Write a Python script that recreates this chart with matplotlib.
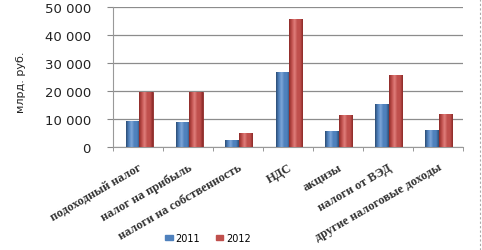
import matplotlib.pyplot as plt
import numpy as np
from matplotlib.colors import LinearSegmentedColormap
from matplotlib.transforms import ScaledTranslation

categories = ['подоходный налог', 'налог на прибыль', 'налоги на собственность', 'НДС',
              'акцизы', 'налоги от ВЭД', 'другие налоговые доходы']
vals_2011 = [9400, 8900, 2500, 26700, 5800, 15400, 5900]
vals_2012 = [19500, 19600, 5000, 45800, 11300, 25800, 11900]
yticks = [0, 10000, 20000, 30000, 40000, 50000]
ytick_labels = ['0', '10 000', '20 000', '30 000', '40 000', '50 000']

blue = '#4F81BD'
red = '#C0504D'

fig = plt.figure(figsize=(4.82, 2.51), dpi=100)
ax = fig.add_axes([113 / 482, 103 / 251, 350 / 482, 140 / 251])

x = np.arange(len(categories))
w = 0.27


def cyl(ax, xs, vals, color, light, dark):
    cmap = LinearSegmentedColormap.from_list('c', [dark, color, light, color, color, dark])
    bars = ax.bar(xs, vals, w, color=color, edgecolor=dark, linewidth=0.6, zorder=3)
    grad = np.linspace(0, 1, 64).reshape(1, -1)
    for b in bars:
        x0, y0 = b.get_x(), b.get_y()
        im = ax.imshow(grad, cmap=cmap, aspect='auto', zorder=3,
                       extent=[x0, x0 + b.get_width(), y0, y0 + b.get_height()])
        im.set_clip_path(b)
    return bars


cyl(ax, x - w / 2 + 0.02, vals_2011, blue, '#7ea6d8', '#2c4d75')
cyl(ax, x + w / 2 + 0.02, vals_2012, red, '#e07e7b', '#8c2a28')

ax.set_xlim(-0.5, len(categories) - 0.5)
ax.set_ylim(0, 50000)

ax.set_yticks(yticks)
ax.set_yticklabels(ytick_labels, fontsize=9.5, color='#222222')
off = ScaledTranslation(0, -4 / 100, fig.dpi_scale_trans)
for t in ax.get_yticklabels():
    t.set_transform(t.get_transform() + off)
ax.tick_params(axis='y', length=4, color='#888888', pad=12)

ax.set_xticks(x)
ax.set_xticklabels(categories, rotation=30, ha='right', rotation_mode='anchor',
                   fontsize=9, family='Liberation Serif', fontweight='bold', color='#333333')
ax.tick_params(axis='x', length=0, pad=10)
ax.set_xticks(np.arange(len(categories) + 1) - 0.5, minor=True)
ax.tick_params(axis='x', which='minor', length=3, color='#888888')

ax.grid(axis='y', color='#8c8c8c', linewidth=0.9, zorder=0)
for s in ['top', 'right']:
    ax.spines[s].set_visible(False)
ax.spines['left'].set_color('#999999')
ax.spines['bottom'].set_color('#999999')

ax.set_ylabel('млрд. руб.', fontsize=8, color='#222222')
ax.yaxis.set_label_coords(-0.25, 0.47)

fig.legend(handles=[plt.Rectangle((0, 0), 1, 1, color=blue), plt.Rectangle((0, 0), 1, 1, color=red)],
           labels=['2011', '2012'], loc='center', bbox_to_anchor=(208 / 482, 1 - 239 / 251),
           ncol=2, frameon=False, fontsize=7, handlelength=0.8, handleheight=0.5,
           handletextpad=0.3, columnspacing=1.6)

fig.add_artist(plt.Line2D([480 / 482, 480 / 482], [0, 1], color='#aaaaaa', linewidth=0.8,
                          linestyle=(0, (2, 2))))

fig.savefig('out.png', dpi=100)
